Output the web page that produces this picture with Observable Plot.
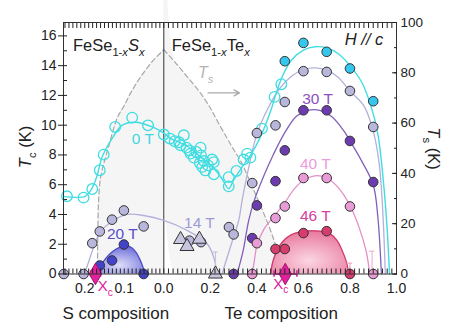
<!DOCTYPE html>
<html>
<head>
<meta charset="utf-8">
<script src="https://cdn.jsdelivr.net/npm/d3@7"></script>
<script src="https://cdn.jsdelivr.net/npm/@observablehq/plot@0.6"></script>
<style>
  html, body { margin: 0; padding: 0; background: #fff; }
  svg { display: block; }
</style>
</head>
<body>
<div id="chart"></div>
<script>
// Composition axis: negative values = S content x of FeSe1-xSx (left panel, reversed),
// positive values = Te content x of FeSe1-xTex (right panel).
const tcMax = 16.9;   // top of the left Tc axis (K)
const tsMax = 100;    // top of the right Ts axis (K)
const tsToTc = v => v * tcMax / tsMax;

// tick labels
const xTickValues = [-0.2, -0.1, 0, 0.2, 0.4, 0.6, 0.8, 1.0];
const tcTickValues = [0, 2, 4, 6, 8, 10, 12, 14, 16];
const tsTickValues = [0, 20, 40, 60, 80, 100];

// ---- data points [composition, Tc (K)] ----
const open0T = [[-0.245,5.22],[-0.203,5.13],[-0.181,5.71],[-0.162,6.97],[-0.152,8.02],[-0.123,9.88],
  [-0.080,10.51],[-0.040,9.99],[0.0,9.37],[0.026,9.10],[0.047,8.92],[0.066,8.85],[0.072,8.65],[0.086,9.32],
  [0.097,8.49],[0.110,8.30],[0.115,8.09],[0.129,7.82],[0.140,8.20],[0.155,7.46],[0.158,8.49],[0.160,7.97],
  [0.165,7.20],[0.172,7.59],[0.179,6.96],[0.190,7.30],[0.208,7.69],[0.215,7.52],[0.215,6.70],[0.279,5.89],
  [0.279,6.51],[0.312,6.92],[0.343,7.69],[0.358,8.09],[0.372,7.82],[0.422,9.77],[0.476,11.9],[0.505,12.75]];
const filled0T = [[0.52,14.30],[0.60,15.53],[0.70,14.93],[0.80,13.81],[0.90,11.61]];
const pts14T = [[-0.253,0],[-0.203,0],[-0.181,2.07],[-0.162,2.86],[-0.131,3.65],[-0.101,4.27],[-0.051,3.20],
  [0.11,2.24],[0.16,2.14],[0.28,3.15],[0.30,2.66],[0.38,6.11],[0.40,9.47],[0.48,9.99],[0.52,11.56],
  [0.60,13.63],[0.70,13.58],[0.80,12.30],[0.90,9.88]];
const tri14T = [[0.072,2.32],[0.100,1.85],[0.153,2.34],[0.222,0]];
const pts20T = [[-0.162,0.57],[-0.131,0.91],[-0.101,1.98],[-0.051,0]];
const pts30T = [[0.30,0],[0.38,2.41],[0.40,4.61],[0.48,6.24],[0.52,8.31],[0.60,11.0],[0.70,11.0],[0.80,8.94],[0.90,6.18]];
const pts40T = [[0.38,0],[0.40,2.07],[0.48,3.76],[0.52,4.54],[0.60,6.45],[0.70,6.45],[0.80,4.54],[0.90,0]];
const pts46T = [[0.48,1.68],[0.52,1.68],[0.60,2.75],[0.70,2.88],[0.80,0]];

// upper-limit markers [composition, Tc, colour]
const upperLimits = [[0.222,1.47,"#c6c4dc"],[0.80,0.73,"#f2a6c4"],[0.895,1.53,"#f4b4d6"]];

// Xc (critical composition) [centre, low, high]
const xcPoints = [[-0.173,-0.185,-0.160],[0.522,0.474,0.572]];

// ---- fitted curves [composition, Tc] ----
const fit0T = [[-0.253,5.2],[-0.22,5.15],[-0.20,5.2],[-0.185,5.6],[-0.17,6.5],[-0.156,7.86],[-0.131,9.1],
  [-0.105,10.0],[-0.072,10.2],[-0.029,9.88],[0,9.47],[0.03,9.1],[0.06,8.9],[0.10,8.6],[0.14,8.1],[0.18,7.6],
  [0.215,7.1],[0.25,6.4],[0.279,5.73],[0.30,6.3],[0.322,6.85],[0.351,7.52],[0.372,7.97],[0.415,9.2],
  [0.458,10.9],[0.48,12.0],[0.51,13.3],[0.55,14.4],[0.60,15.05],[0.65,15.27],[0.70,15.2],[0.75,14.8],
  [0.80,14.0],[0.85,12.9],[0.89,11.3],[0.92,9.4],[0.945,6.0],[0.96,3.0],[0.97,0]];
const fit14Ta = [[-0.203,0],[-0.195,0.45],[-0.181,1.55],[-0.16,2.85],[-0.127,3.6],[-0.093,4.0],[-0.051,3.93],
  [0,3.6],[0.10,2.93],[0.186,2.03],[0.215,1.1],[0.228,0]];
const fit14Tb = [[0.25,0],[0.29,2.0],[0.322,3.6],[0.336,4.9],[0.36,6.8],[0.40,9.4],[0.45,11.2],[0.50,12.5],
  [0.55,13.3],[0.60,13.75],[0.65,13.85],[0.70,13.7],[0.75,13.2],[0.80,12.3],[0.86,11.3],[0.90,9.6],
  [0.925,7.5],[0.94,4.5],[0.952,0]];
const fit20T = [[-0.173,0],[-0.16,0.55],[-0.145,1.1],[-0.13,1.5],[-0.11,1.8],[-0.095,1.88],[-0.08,1.75],
  [-0.07,1.45],[-0.06,0.95],[-0.052,0.4],[-0.048,0]];
const fit30T = [[0.315,0],[0.34,1.5],[0.365,3.6],[0.39,5.0],[0.43,6.6],[0.47,8.0],[0.52,9.5],[0.57,10.6],
  [0.62,11.0],[0.67,11.0],[0.72,10.6],[0.77,9.7],[0.80,8.95],[0.85,7.6],[0.90,6.0],[0.92,3.8],[0.935,0]];
const fit40T = [[0.38,0],[0.39,1.0],[0.40,1.9],[0.43,3.0],[0.48,4.0],[0.52,4.8],[0.56,5.7],[0.60,6.3],
  [0.65,6.6],[0.70,6.45],[0.75,5.8],[0.80,4.6],[0.84,3.1],[0.87,1.5],[0.885,0]];
const fit46T = [[0.458,0],[0.47,0.9],[0.487,1.6],[0.51,2.15],[0.544,2.6],[0.59,2.85],[0.63,2.9],[0.67,2.88],
  [0.715,2.7],[0.745,2.25],[0.766,1.6],[0.785,0.8],[0.795,0]];

// ---- nematic transition Ts [composition, Ts (K)] ----
const tsS = [[-0.168,0],[-0.167,15],[-0.165,29],[-0.160,38.5],[-0.150,45],[-0.140,50.5],[-0.118,62],
  [-0.100,67],[-0.082,72.5],[-0.059,78.3],[-0.029,84.5],[0,89.2]];
const tsTe = [[0,89.2],[0.05,84],[0.10,78.5],[0.157,72],[0.20,66],[0.229,61],[0.272,54],[0.30,49.5],
  [0.33,45],[0.36,39],[0.40,30.5],[0.43,24],[0.458,17.5],[0.48,11.5],[0.50,5.3],[0.512,0]];

// ---- labels ----
const fieldLabels = [
  {x:-0.053, y:9.05, text:"0 T",  color:"#3fd8e0"},
  {x:0.153,  y:3.42, text:"14 T", color:"#9c99d8"},
  {x:-0.105, y:2.66, text:"20 T", color:"#5a4fc8"},
  {x:0.661,  y:11.79,text:"30 T", color:"#8e4fc0"},
  {x:0.651,  y:7.37, text:"40 T", color:"#ec9cd8"},
  {x:0.651,  y:3.87, text:"46 T", color:"#d33fa0"}
];
const tsArrow = [{x1:0.19, x2:0.325, y:12.17}];

const FONT = "'Liberation Sans', Arial, Helvetica, sans-serif";
const X0 = d => d[0], Y1 = d => d[1];
const sMinor = d3.range(1, 26).map(i => -i / 100);
const teMinor = d3.range(1, 50).map(i => i / 50);
const minorX = [...sMinor, 0, ...teMinor];

const tsTagged = [...tsS.map(d => ({x:d[0], ts:d[1], side:"S"})), ...tsTe.map(d => ({x:d[0], ts:d[1], side:"Te"}))];

const C = {cyan:"#3fdde2", cyanFill:"#35c6ee", lav:"#b9b6dc", lavLine:"#b3b0da", blue:"#4343c9", blueLine:"#4d4dc6",
  purple:"#6c3bb0", purpleLine:"#8060b8", pink:"#e99bd7", pinkLine:"#e58ec8", red:"#d83c6c", redLine:"#cf3a6c", xc:"#e0229c"};

const dotOpts = (fill) => ({x: X0, y: Y1, r: 4.8, fill, stroke: "#333", strokeWidth: 1});

const plot = Plot.plot({
  width: 467,
  height: 334,
  marginLeft: 63,
  marginRight: 71,
  marginTop: 22,
  marginBottom: 60.5,
  style: {fontFamily: FONT, fontSize: "14px", color: "#222", background: "#fff"},
  x: {type: "linear", domain: [-0.253, 0, 1.0], range: [63.3, 163.3, 396]},
  y: {domain: [0, tcMax]},
  marks: [
    // nematic region
    Plot.areaY(tsTagged, {x: "x", y: d => tsToTc(d.ts), z: "side", fill: "#f5f5f5", curve: "catmull-rom"}),
    Plot.line(tsTagged, {x: "x", y: d => tsToTc(d.ts), z: "side", stroke: "#a8a8a8", strokeWidth: 1.2, strokeDasharray: "5,3", curve: "catmull-rom"}),
    Plot.ruleX([0], {stroke: "#333", strokeWidth: 1}),
    // superconducting domes
    Plot.areaY(fit20T, {x: X0, y: Y1, fill: "url(#grad20)", curve: "catmull-rom"}),
    Plot.areaY(fit46T, {x: X0, y: Y1, fill: "url(#grad46)", curve: "catmull-rom"}),
    // fit lines
    Plot.line(fit14Ta, {x: X0, y: Y1, stroke: C.lavLine, strokeWidth: 1.3, curve: "catmull-rom"}),
    Plot.line(fit14Tb, {x: X0, y: Y1, stroke: C.lavLine, strokeWidth: 1.3, curve: "catmull-rom"}),
    Plot.line(fit30T, {x: X0, y: Y1, stroke: C.purpleLine, strokeWidth: 1.3, curve: "catmull-rom"}),
    Plot.line(fit40T, {x: X0, y: Y1, stroke: C.pinkLine, strokeWidth: 1.3, curve: "catmull-rom"}),
    Plot.line(fit46T, {x: X0, y: Y1, stroke: C.redLine, strokeWidth: 1.3, curve: "catmull-rom"}),
    Plot.line(fit20T, {x: X0, y: Y1, stroke: C.blueLine, strokeWidth: 1.3, curve: "catmull-rom"}),
    Plot.line(fit0T, {x: X0, y: Y1, stroke: C.cyan, strokeWidth: 1.4, curve: "catmull-rom"}),
    // upper limits
    Plot.ruleX(upperLimits, {x: X0, y1: 0, y2: Y1, stroke: d => d[2], strokeWidth: 1.2}),
    Plot.ruleY(upperLimits, {y: Y1, x1: d => d[0] - 0.012, x2: d => d[0] + 0.012, stroke: d => d[2], strokeWidth: 1.2}),
    // points
    Plot.dot(open0T, {x: X0, y: Y1, r: 5.3, fill: "none", stroke: C.cyan, strokeWidth: 1.3}),
    Plot.dot(filled0T, dotOpts(C.cyanFill)),
    Plot.dot(pts14T, dotOpts(C.lav)),
    Plot.dot(tri14T, {x: X0, y: Y1, r: 5.2, symbol: "triangle", fill: "#c8c6de", stroke: "#333", strokeWidth: 1}),
    Plot.dot(pts20T, dotOpts(C.blue)),
    Plot.dot(pts30T, dotOpts(C.purple)),
    Plot.dot(pts40T, dotOpts(C.pink)),
    Plot.dot(pts46T, dotOpts(C.red)),
    // Xc
    Plot.ruleY(xcPoints, {y: 0, x1: d => d[1], x2: d => d[2], stroke: C.xc, strokeWidth: 1.6}),
    Plot.ruleX(xcPoints.flatMap(d => [d[1], d[2]]), {x: d => d, y1: -0.22, y2: 0.22, stroke: C.xc, strokeWidth: 1.6}),
    Plot.dot(xcPoints, {x: X0, y: 0, r: 6.5, symbol: "diamond", fill: C.xc, stroke: "#a3146e", strokeWidth: 1}),
    // field labels
    Plot.text(fieldLabels, {x: "x", y: "y", text: "text", fill: "color", fontSize: 15.5, fontFamily: FONT}),
    // Ts arrow
    Plot.arrow(tsArrow, {x1: "x1", x2: "x2", y1: "y", y2: "y", stroke: "#aaaaaa", strokeWidth: 1.3, headLength: 7}),
    // frame & axes
    Plot.frame({stroke: "#333", strokeWidth: 1}),
    Plot.axisY({anchor: "left", ticks: tcTickValues, tickSize: 5, tickPadding: 2, fontSize: 14, label: null}),
    Plot.axisY({anchor: "left", ticks: d3.range(0, 17), tickSize: -4, tickFormat: () => "", label: null}),
    Plot.axisY({anchor: "right", ticks: tsTickValues.map(tsToTc), tickFormat: d => Math.round(d * tsMax / tcMax), tickSize: -5, tickPadding: 9, fontSize: 13.5, label: null}),
    Plot.axisY({anchor: "right", ticks: d3.range(0, 101, 10).map(tsToTc), tickSize: -3, tickFormat: () => "", label: null}),
    Plot.axisX({anchor: "bottom", ticks: xTickValues, tickSize: 0, tickPadding: 9, fontSize: 14, tickFormat: d => Math.abs(d).toFixed(1), label: null}),
    Plot.axisX({anchor: "bottom", ticks: minorX, tickSize: -5, tickFormat: () => "", label: null}),
    Plot.axisX({anchor: "top", ticks: minorX, tickSize: -5, tickFormat: () => "", label: null})
  ]
});

document.getElementById("chart").appendChild(plot);

// ---- gradients & rich text annotations ----
const svg = d3.select(plot);
const defs = svg.insert("defs", ":first-child");
function radial(id, inner, outer) {
  const g = defs.append("radialGradient").attr("id", id).attr("cx", "50%").attr("cy", "70%").attr("r", "70%");
  g.append("stop").attr("offset", "0%").attr("stop-color", inner);
  g.append("stop").attr("offset", "100%").attr("stop-color", outer);
}
radial("grad20", "#dedefa", "#6a6ad8");
radial("grad46", "#fbd6e2", "#e8769c");

const xs = plot.scale("x"), ys = plot.scale("y");
const X = v => xs.apply(v), Y = v => ys.apply(v);

function rich({x, y, anchor = "start", size = 16, color = "#222", rotate = 0, parts}) {
  const t = svg.append("text")
    .attr("transform", `translate(${x},${y})` + (rotate ? ` rotate(${rotate})` : ""))
    .attr("text-anchor", anchor).attr("font-size", size).attr("fill", color)
    .attr("font-family", FONT);
  let shift = 0;
  for (const p of parts) {
    const s = t.append("tspan").text(p.t);
    const target = p.sub ? size * 0.32 : 0;
    if (target !== shift) { s.attr("dy", target - shift); shift = target; }
    if (p.sub) s.attr("font-size", size * 0.68);
    if (p.it) s.attr("font-style", "italic");
  }
}

rich({x: X(-0.2286), y: Y(14.97), size: 16.5, parts: [{t:"FeSe"},{t:"1-",sub:true},{t:"x",sub:true,it:true},{t:"S",it:true},{t:"x",sub:true,it:true}]});
rich({x: X(0.036), y: Y(14.97), size: 16.5, parts: [{t:"FeSe"},{t:"1-",sub:true},{t:"x",sub:true,it:true},{t:"Te"},{t:"x",sub:true,it:true}]});
rich({x: X(0.78), y: Y(15.37), size: 16.5, parts: [{t:"H // c", it:true}]});
rich({x: X(0.149), y: Y(13.16), size: 16, color: "#b3b3b3", parts: [{t:"T",it:true},{t:"s",sub:true,it:true}]});
rich({x: X(-0.166), y: Y(0) + 17.5, size: 15, color: C.xc, parts: [{t:"X"},{t:"c",sub:true}]});
rich({x: X(0.472), y: Y(0) + 15, size: 15, color: C.xc, parts: [{t:"X"},{t:"c",sub:true}]});
rich({x: 31, y: Y(8.5), anchor: "middle", size: 16.5, rotate: -90, parts: [{t:"T",it:true},{t:"c",sub:true},{t:" (K)"}]});
rich({x: 428, y: Y(8.4), anchor: "middle", size: 16.5, rotate: 90, parts: [{t:"T",it:true},{t:"s",sub:true},{t:" (K)"}]});
rich({x: X(-0.12), y: Y(0) + 45.5, anchor: "middle", size: 17, parts: [{t:"S composition"}]});
rich({x: X(0.507), y: Y(0) + 45.5, anchor: "middle", size: 17, parts: [{t:"Te composition"}]});
</script>
</body>
</html>
